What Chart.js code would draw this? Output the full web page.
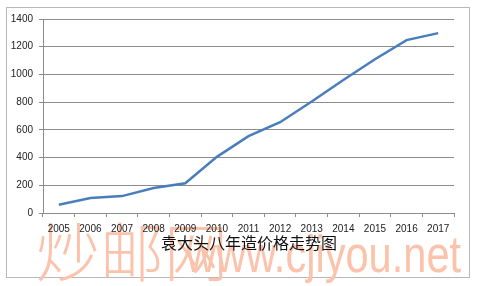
<!DOCTYPE html>
<html>
<head>
<meta charset="utf-8">
<script src="https://cdn.jsdelivr.net/npm/chart.js@4"></script>
<style>
  html, body { margin: 0; padding: 0; background: #fff; }
  #wrap { position: relative; width: 478px; height: 286px; }
</style>
</head>
<body>
<div id="wrap"><canvas id="priceChart" width="478" height="286"></canvas></div>
<script>
const years = ['2005', '2006', '2007', '2008', '2009', '2010', '2011', '2012', '2013', '2014', '2015', '2016', '2017'];
const prices = [60, 108, 122, 180, 215, 405, 555, 655, 805, 960, 1110, 1248, 1298];
const titleText = '袁大头八年造价格走势图';
const watermarkCn = '炒邮网';
const watermarkUrl = 'www.cjiyou.net';

// frame + watermark behind the chart, title on top
const extras = {
    id: 'extras',
    beforeDraw(chart) {
        const ctx = chart.ctx;
        ctx.save();
        ctx.fillStyle = '#fff';
        ctx.fillRect(0, 0, chart.width, chart.height);
        ctx.strokeStyle = '#b8b8b8';
        ctx.lineWidth = 1;
        ctx.strokeRect(6.5, 7.5, 463, 270);

        ctx.fillStyle = '#fbc3ab';
        ctx.textAlign = 'left';
        ctx.textBaseline = 'alphabetic';
        ctx.font = '300 64px "Noto Sans CJK SC"';
        ctx.fillText(watermarkCn, 36, 276);
        // the url is a narrow face in the original
        ctx.translate(186, 272);
        ctx.scale(0.8, 1);
        ctx.font = '52px "Liberation Sans"';
        ctx.fillText(watermarkUrl, 0, 0);
        ctx.restore();
    },
    afterDraw(chart) {
        const ctx = chart.ctx;
        ctx.save();
        ctx.fillStyle = '#111';
        ctx.font = '16px "Noto Sans CJK SC"';
        ctx.textAlign = 'center';
        ctx.textBaseline = 'middle';
        ctx.fillText(titleText, 249, 243);
        ctx.restore();
    }
};

new Chart(document.getElementById('priceChart'), {
    type: 'line',
    data: {
        labels: years,
        datasets: [{
            data: prices,
            borderColor: '#4a7ebb',
            borderWidth: 2.5,
            pointRadius: 0,
            tension: 0,
            fill: false
        }]
    },
    options: {
        responsive: false,
        animation: false,
        layout: { padding: { left: 0, right: 24, top: 19, bottom: 53 } },
        plugins: {
            legend: { display: false },
            title: { display: false },
            tooltip: { enabled: false }
        },
        scales: {
            x: {
                offset: true,
                afterFit: (s) => { s.height = 20; },
                grid: {
                    offset: true,
                    drawOnChartArea: false,
                    drawTicks: true,
                    tickLength: 4,
                    color: '#8c8c8c'
                },
                border: { color: '#8c8c8c', width: 1 },
                ticks: {
                    color: '#222',
                    font: { family: 'Liberation Sans', size: 10 },
                    padding: 6,
                    maxRotation: 0,
                    autoSkip: false
                }
            },
            y: {
                min: 0,
                max: 1400,
                afterFit: (s) => { s.width = 43; },
                grid: { color: '#8c8c8c', tickLength: 4 },
                border: { color: '#8c8c8c', width: 1 },
                ticks: {
                    stepSize: 200,
                    color: '#222',
                    font: { family: 'Liberation Sans', size: 10 },
                    padding: 6,
                    callback: (v) => String(v)
                }
            }
        }
    },
    plugins: [extras]
});
</script>
</body>
</html>
